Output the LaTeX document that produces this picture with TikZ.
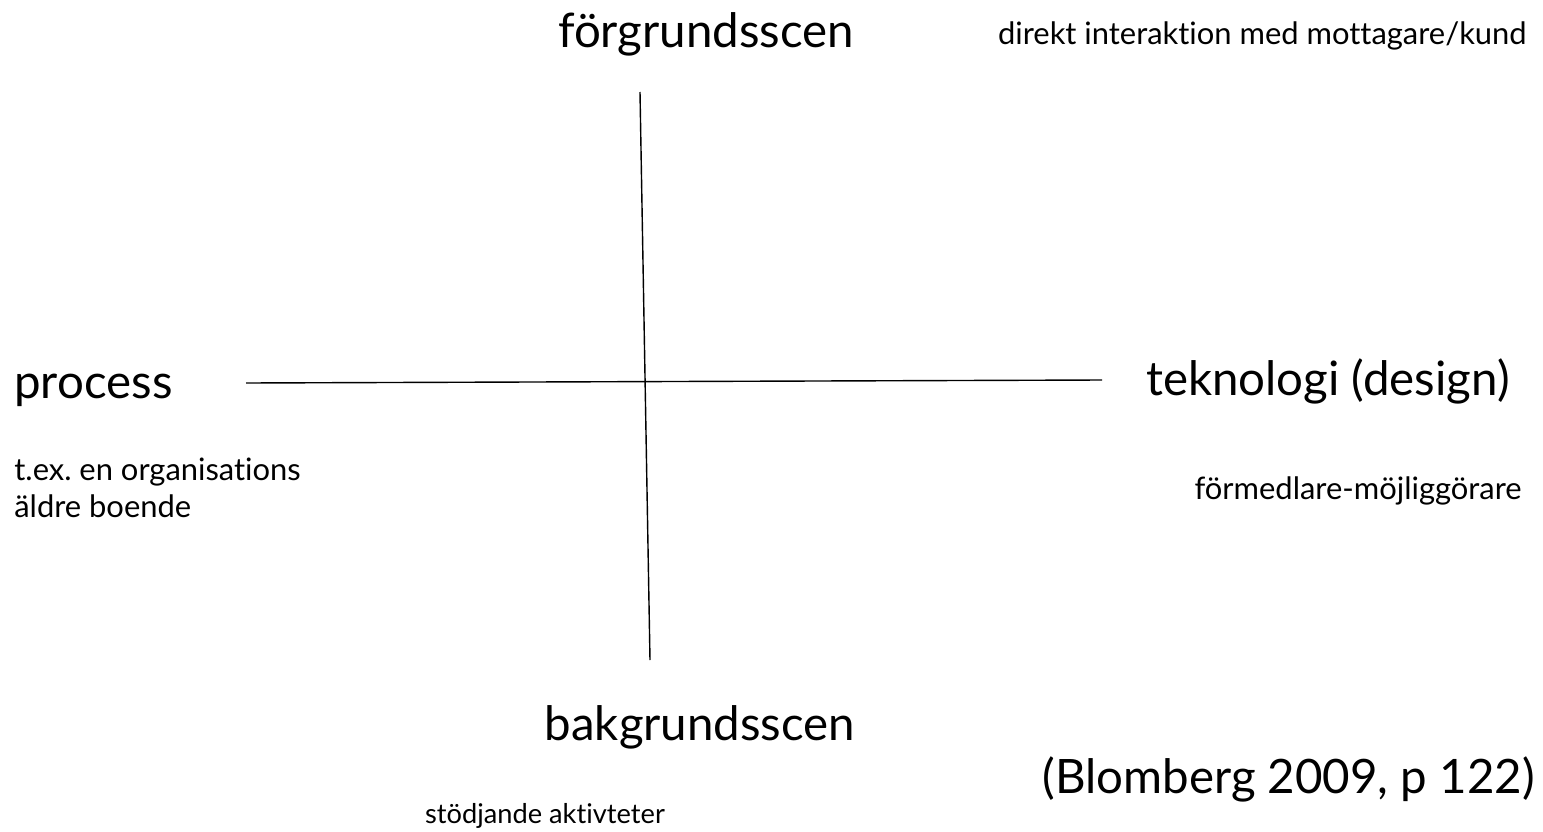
\documentclass[tikz,border=0pt]{standalone}
\usepackage{fontspec}
\setmainfont{Lato}[Ligatures=NoCommon]
\frenchspacing
\usetikzlibrary{positioning}
\tikzset{
  big/.style={font=\fontsize{27}{30}\selectfont, inner sep=0pt},
  small/.style={font=\fontsize{17.6}{20.5}\selectfont, inner sep=0pt, align=left},
  axis/.style={draw=black, line width=0.8pt},
}
\begin{document}
\begin{tikzpicture}[x=0.02cm,y=-0.02cm]
  \useasboundingbox (0,0) rectangle (1543,832);
  % axes
  \coordinate (top) at (640,92);
  \coordinate (bottom) at (650,660);
  \coordinate (left) at (246,383);
  \coordinate (right) at (1102,380);
  \draw[axis] (top) -- (bottom);
  \draw[axis] (left) -- (right);
  % labels
  \node[big,anchor=base] (fore) at (706,47) {förgrundsscen};
  \node[small,anchor=base east] (foreann) at (1527,44) {direkt interaktion med mottagare/kund};
  \node[big,anchor=base west] (proc) at (14,398) {process};
  \node[small,anchor=base west] (procann) at (14,517) {t.ex. en organisations\\äldre boende};
  \node[big,anchor=base east] (tech) at (1510,395) {teknologi (design)};
  \node[small,anchor=base east] (techann) at (1522,499) {förmedlare-möjliggörare};
  \node[big,anchor=base] (back) at (700,740) {bakgrundsscen};
  \node[small,anchor=base,font=\fontsize{15.5}{18}\selectfont] (backann) at (545,823) {stödjande aktivteter};
  \node[big,anchor=base east] (ref) at (1535,793) {(Blomberg 2009, p 122)};
\end{tikzpicture}
\end{document}
